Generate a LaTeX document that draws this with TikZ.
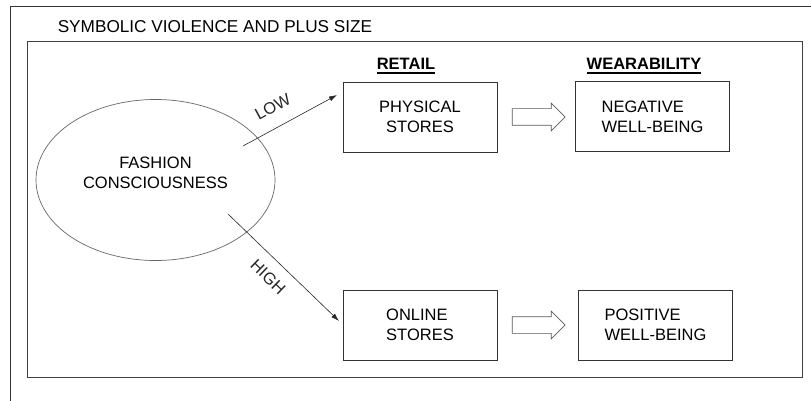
\documentclass[tikz,border=0pt]{standalone}
\usepackage{fontspec}
\setmainfont{Liberation Sans}
\usetikzlibrary{arrows.meta,shapes.geometric,shapes.arrows}

\begin{document}
\begin{tikzpicture}[
  x=1pt, y=-1pt,
  font=\fontsize{16.5}{20}\selectfont,
  box/.style={
    draw=black!80, line width=0.8pt,
    minimum width=154pt, minimum height=70pt, inner sep=0pt
  },
  hollow/.style={
    single arrow, draw=black!65, line width=0.7pt,
    minimum height=53pt, inner xsep=0pt, inner ysep=8pt,
    single arrow head extend=5.5pt
  },
  link/.style={-{Latex[length=8pt,width=5pt]}, line width=0.6pt, black!85},
  head/.style={anchor=base, inner xsep=0pt, font=\fontsize{16.5}{20}\selectfont\bfseries}
]
  \useasboundingbox (0,0) rectangle (811,401);
  % frames
  \draw[black!80, line width=0.8pt] (811,6) -- (10.5,6) -- (10.5,401);
  \node[anchor=base, font=\fontsize{17.2}{20}\selectfont] (title) at (215,32.7)
    {SYMBOLIC VIOLENCE AND PLUS SIZE};
  \draw[black!75, line width=0.8pt] (27,41) rectangle (802,377);
  % column heads
  \node[head] (retail) at (406,70) {RETAIL};
  \node[head] (wear) at (644,70) {WEARABILITY};
  \foreach \h in {retail,wear} {
    \draw[line width=1.4pt] ([yshift=-3pt]\h.base west) -- ([yshift=-3pt]\h.base east);
  }
  % nodes
  \node[ellipse, draw=black!60, line width=0.7pt, minimum width=239pt,
    minimum height=161pt, inner sep=0pt, align=center] (fc) at (155.5,180)
    {FASHION\\CONSCIOUSNESS\\[-6pt]};
  \node[box, align=center] (phys) at (420,117) {PHYSICAL\\STORES};
  \node[box, align=left] (neg) at (652.5,116.5) {NEGATIVE\\WELL-BEING};
  \node[box, align=left] (online) at (420,325) {ONLINE\\STORES};
  \node[box, align=left] (pos) at (655.5,325) {POSITIVE\\WELL-BEING};
  \foreach \nm/\y in {gotop/117,gobot/325} {
    \node[hollow] (\nm) at (534.5,\y) {};
  }
  % links
  \coordinate (lowfrom) at (243,146);
  \coordinate (lowto) at (337,95);
  \coordinate (highfrom) at (228,214);
  \coordinate (highto) at (339,321);
  \draw[link] (lowfrom) -- node[pos=0.42, sloped, above=11pt] {LOW} (lowto);
  \draw[link] (highfrom) -- node[pos=0.47, sloped, below=8pt] {HIGH} (highto);
\end{tikzpicture}
\end{document}
